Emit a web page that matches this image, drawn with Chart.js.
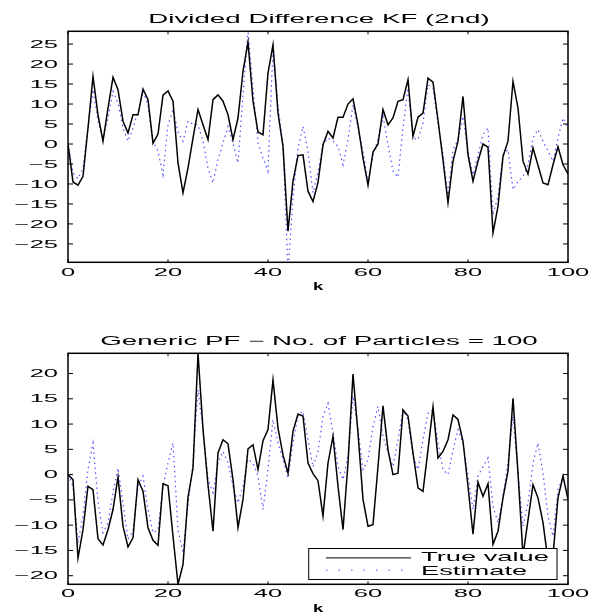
<!DOCTYPE html>
<html>
<head>
<meta charset="utf-8">
<script src="https://cdn.jsdelivr.net/npm/chart.js@4.4.1/dist/chart.umd.min.js"></script>
<style>
  html, body { margin: 0; padding: 0; background: #fff; }
  #wrap { position: relative; width: 592px; height: 615px; }
  canvas { position: absolute; left: 0; }
  #c1 { top: 0; }
  #c2 { top: 308px; }
</style>
</head>
<body>
<div id="wrap">
  <canvas id="c1" width="592" height="308"></canvas>
  <canvas id="c2" width="592" height="307"></canvas>
</div>
<script>
// time steps
const kSteps = [0,1,2,3,4,5,6,7,8,9,10,11,12,13,14,15,16,17,18,19,20,21,22,23,24,25,26,27,28,29,30,
  31,32,33,34,35,36,37,38,39,40,41,42,43,44,45,46,47,48,49,50,51,52,53,54,55,56,57,58,59,60,
  61,62,63,64,65,66,67,68,69,70,71,72,73,74,75,76,77,78,79,80,81,82,83,84,85,86,87,88,89,90,
  91,92,93,94,95,96,97,98,99,100];

// top plot: Divided Difference KF (2nd)
const ddTrue = [0,-9.5,-10.3,-8.1,4,16.9,7.3,0.7,9,16.7,13.6,5.7,2.75,7.3,7.3,13.75,11.1,0.2,2.5,12.2,13.3,
  10.7,-4.75,-12.25,-6,1.5,8.6,4.8,1.1,11.1,12.3,10.7,7.3,1.1,6.5,18.2,25.5,10.7,3,2.3,17.75,
  24.8,7.75,-0.6,-21.8,-9.3,-2.9,-2.7,-11.8,-14.4,-9.6,-0.2,3.2,1.5,6.7,6.7,10,11.3,4.8,-3.5,-10.3,
  -2,0,8.6,4.8,6.5,10.7,11.1,16.1,1.9,6.7,7.75,16.5,15.5,6,-4,-14.75,-4.3,0.7,11.9,-2.7,
  -9.3,-4.3,0,-0.8,-22.25,-15.6,-3.1,0.7,15.7,9,-4.3,-7.5,-1,-5.3,-9.75,-10.2,-5.2,-0.7,-5.2,-7.5];
const ddEst = [0,-7.25,-8.7,-6,4,13.6,5.7,1.5,6.5,13.2,10.25,4,0.7,4,8,13.2,9.8,0.7,-1.8,-7.7,4.8,
  8.6,3,0.7,5.7,5,4.8,0.7,-6,-9.75,-3.9,0.25,4.4,0.25,-4.75,12.3,28.5,14,0.25,-3.5,-6.8,
  24,9.4,-0.2,-32,-13.5,-1,4.4,-1.8,-12.2,-7,-0.2,1.5,0.7,-0.6,-5.2,1.1,9.8,4,-1.8,-9.75,
  -2.7,1.1,6.9,-0.2,-6.8,-8.3,4,14,1.5,1.1,5.25,14.8,14,5,-2.7,-12.7,-1.4,1.1,6.9,-1.8,
  -7.7,-2.7,2.3,4,-17.7,-13,-2.7,-1.4,-11.4,-9.3,-8.1,-5.2,1.5,3.6,0.7,-1.8,-4.3,1.5,6.5,4];

// bottom plot: Generic PF
const pfTrue = [0,-1,-16.5,-10.9,-2.3,-3,-12.7,-13.9,-10.9,-6.9,-0.5,-10.2,-14.3,-12.5,-1,-3.3,-10.5,-13,-14,-1.8,-2.2,
  -12.2,-21.7,-17.8,-4.5,1.3,24,9,-2,-11.2,4.3,6.9,6.1,-1,-10.5,-4.9,5.1,5.9,1,6.7,8.9,
  18.75,9.2,3.9,0.3,8.6,12,11.6,2.3,0.2,-1.2,-8.2,2.3,7.6,-2.3,-10.9,2.3,19.9,8.2,-4.9,-10.2,
  -9.9,1.6,13.6,4.9,0,0.3,12.8,11.6,4.3,-2.6,-3.3,4.9,13.4,3.3,4.6,6.9,11.8,10.9,6.6,-2.3,
  -11.8,-1.5,-4.3,-1.8,-13.8,-11.2,-4.6,0.7,15.1,0.3,-16,-9,-2,-4.6,-9.5,-17,-16,-4.6,-0.3,-4.9];
const pfEst = [0,-2.3,-13.5,-8,1,6.25,-5.3,-11.5,-9.5,-3.6,1.3,-5.6,-12.8,-11.2,-2.3,-0.3,-6.9,-11.5,-10.9,-2.3,2.3,
  6.25,-10.9,-15.5,-6,2.5,16.8,8.9,-1,-3.6,2.3,4.6,2.3,-2.3,-5.6,-2.3,3,2.3,-0.3,-6.9,1,
  10.9,6.25,3,-0.7,6.25,11.8,12.5,6.9,1.5,4.5,11.5,14.1,8.2,1.6,-1,3.6,15.5,8.9,1,3,
  9.5,13.5,7.6,4.3,1.6,6.9,12.8,10.9,3.6,1,6.9,12.2,12.8,6.25,1,0,4.9,8.9,6.25,-0.3,
  -6.9,-0.3,1.6,3.3,-6.25,-9.5,-4.3,2.3,11.5,0.3,-10.2,-5.6,2.3,6.25,0.3,-8.2,-12.2,-3,-0.3,-4.3];

// tick labels
const xTicks = [0, 20, 40, 60, 80, 100];
const ddYTicks = [-25, -20, -15, -10, -5, 0, 5, 10, 15, 20, 25];
const pfYTicks = [-20, -15, -10, -5, 0, 5, 10, 15, 20];

const FONT = '"Liberation Sans", Arial, Helvetica, sans-serif';

// the reference text is stretched sideways, so draw it with a horizontal scale
function wideText(ctx, str, x, y, size, sx, align, weight) {
  ctx.save();
  ctx.font = (weight || 'normal') + ' ' + size + 'px ' + FONT;
  ctx.textAlign = 'left';
  ctx.textBaseline = 'alphabetic';
  const w = ctx.measureText(str).width * sx;
  let x0 = x;
  if (align === 'center') x0 = x - w / 2;
  if (align === 'right') x0 = x - w;
  ctx.translate(x0, y);
  ctx.scale(sx, 1);
  ctx.fillStyle = '#000';
  ctx.fillText(str, 0, 0);
  ctx.restore();
}

function tickText(v) {
  return v < 0 ? '\u2212' + Math.abs(v) : String(v);
}

const matlabAxes = {
  id: 'matlabAxes',
  afterDatasetsDraw(chart, args, opts) {
    const ctx = chart.ctx;
    const a = chart.chartArea;
    const xs = chart.scales.x, ys = chart.scales.y;
    ctx.save();
    ctx.strokeStyle = '#000';
    ctx.lineWidth = 1;
    ctx.beginPath();
    xTicks.forEach(v => {
      const px = xs.getPixelForValue(v);
      ctx.moveTo(px, a.top); ctx.lineTo(px, a.top + 3);
      ctx.moveTo(px, a.bottom); ctx.lineTo(px, a.bottom - 3);
    });
    opts.yTicks.forEach(v => {
      const py = ys.getPixelForValue(v);
      ctx.moveTo(a.left, py); ctx.lineTo(a.left + 5, py);
      ctx.moveTo(a.right, py); ctx.lineTo(a.right - 5, py);
    });
    ctx.stroke();
    ctx.lineWidth = 1.5;
    ctx.strokeRect(a.left, a.top, a.right - a.left, a.bottom - a.top);
    ctx.restore();

    // tick labels
    opts.yTicks.forEach(v => {
      wideText(ctx, tickText(v), a.left - 10, ys.getPixelForValue(v) + 3.6, 10, 2.55, 'right');
    });
    xTicks.forEach(v => {
      wideText(ctx, tickText(v), xs.getPixelForValue(v), a.bottom + opts.xLabelGap, 10, 2.55, 'center');
    });
    wideText(ctx, 'k', (a.left + a.right) / 2, a.bottom + opts.kGap, 11.5, 1.6, 'center', 'bold');
    wideText(ctx, opts.title, (a.left + a.right) / 2 + 1, a.top - 8, 12, 2.31, 'center');

    if (!opts.legend) return;
    // legend box in the lower right corner
    const bw = 248.3, bh = 31;
    const bx = a.right - 11 - bw, by = a.bottom - 4.8 - bh;
    ctx.save();
    ctx.fillStyle = '#fff';
    ctx.fillRect(bx, by, bw, bh);
    ctx.strokeStyle = '#000';
    ctx.lineWidth = 1;
    ctx.strokeRect(bx, by, bw, bh);
    chart.data.datasets.forEach((ds, i) => {
      const ly = by + 9.4 + i * 12.3;
      ctx.save();
      ctx.strokeStyle = ds.borderColor;
      ctx.lineWidth = 1;
      if (ds.borderDash && ds.borderDash.length) ctx.setLineDash([1.5, 11]);
      ctx.beginPath();
      ctx.moveTo(bx + 17.3, ly);
      ctx.lineTo(bx + 102.3, ly);
      ctx.stroke();
      ctx.restore();
      wideText(ctx, ds.label, bx + 112.3, by + 12.7 + i * 14, 13, 2.1, 'left');
    });
    ctx.restore();
  }
};

function makeChart(id, trueVals, estVals, yMin, yMax, axesOpts, pad) {
  return new Chart(document.getElementById(id), {
    type: 'line',
    data: {
      datasets: [
        {
          label: 'True value',
          data: trueVals.map((v, i) => ({ x: kSteps[i], y: v })),
          borderColor: '#000',
          borderWidth: 1.5,
          pointRadius: 0,
          tension: 0,
          clip: 0
        },
        {
          label: 'Estimate',
          data: estVals.map((v, i) => ({ x: kSteps[i], y: v })),
          borderColor: 'rgb(80,80,255)',
          borderWidth: 1.2,
          borderDash: [1.5, 3.5],
          pointRadius: 0,
          tension: 0,
          clip: 0
        }
      ]
    },
    options: {
      responsive: false,
      animation: false,
      devicePixelRatio: 1,
      layout: { padding: pad },
      plugins: {
        legend: { display: false },
        title: { display: false },
        tooltip: { enabled: false },
        matlabAxes: axesOpts
      },
      scales: {
        x: { type: 'linear', min: 0, max: 100, display: false },
        y: { type: 'linear', min: yMin, max: yMax, display: false }
      }
    },
    plugins: [matlabAxes]
  });
}

makeChart('c1', ddTrue, ddEst, -29.6, 28.2,
  { title: 'Divided Difference KF (2nd)', yTicks: ddYTicks, xLabelGap: 14, kGap: 27.7, legend: false },
  { left: 68, right: 24, top: 31.3, bottom: 45.7 });

makeChart('c2', pfTrue, pfEst, -21.7, 24.0,
  { title: 'Generic PF \u2212 No. of Particles = 100', yTicks: pfYTicks, xLabelGap: 13, kGap: 27.5, legend: true },
  { left: 68, right: 24, top: 45.3, bottom: 30.7 });
</script>
</body>
</html>
